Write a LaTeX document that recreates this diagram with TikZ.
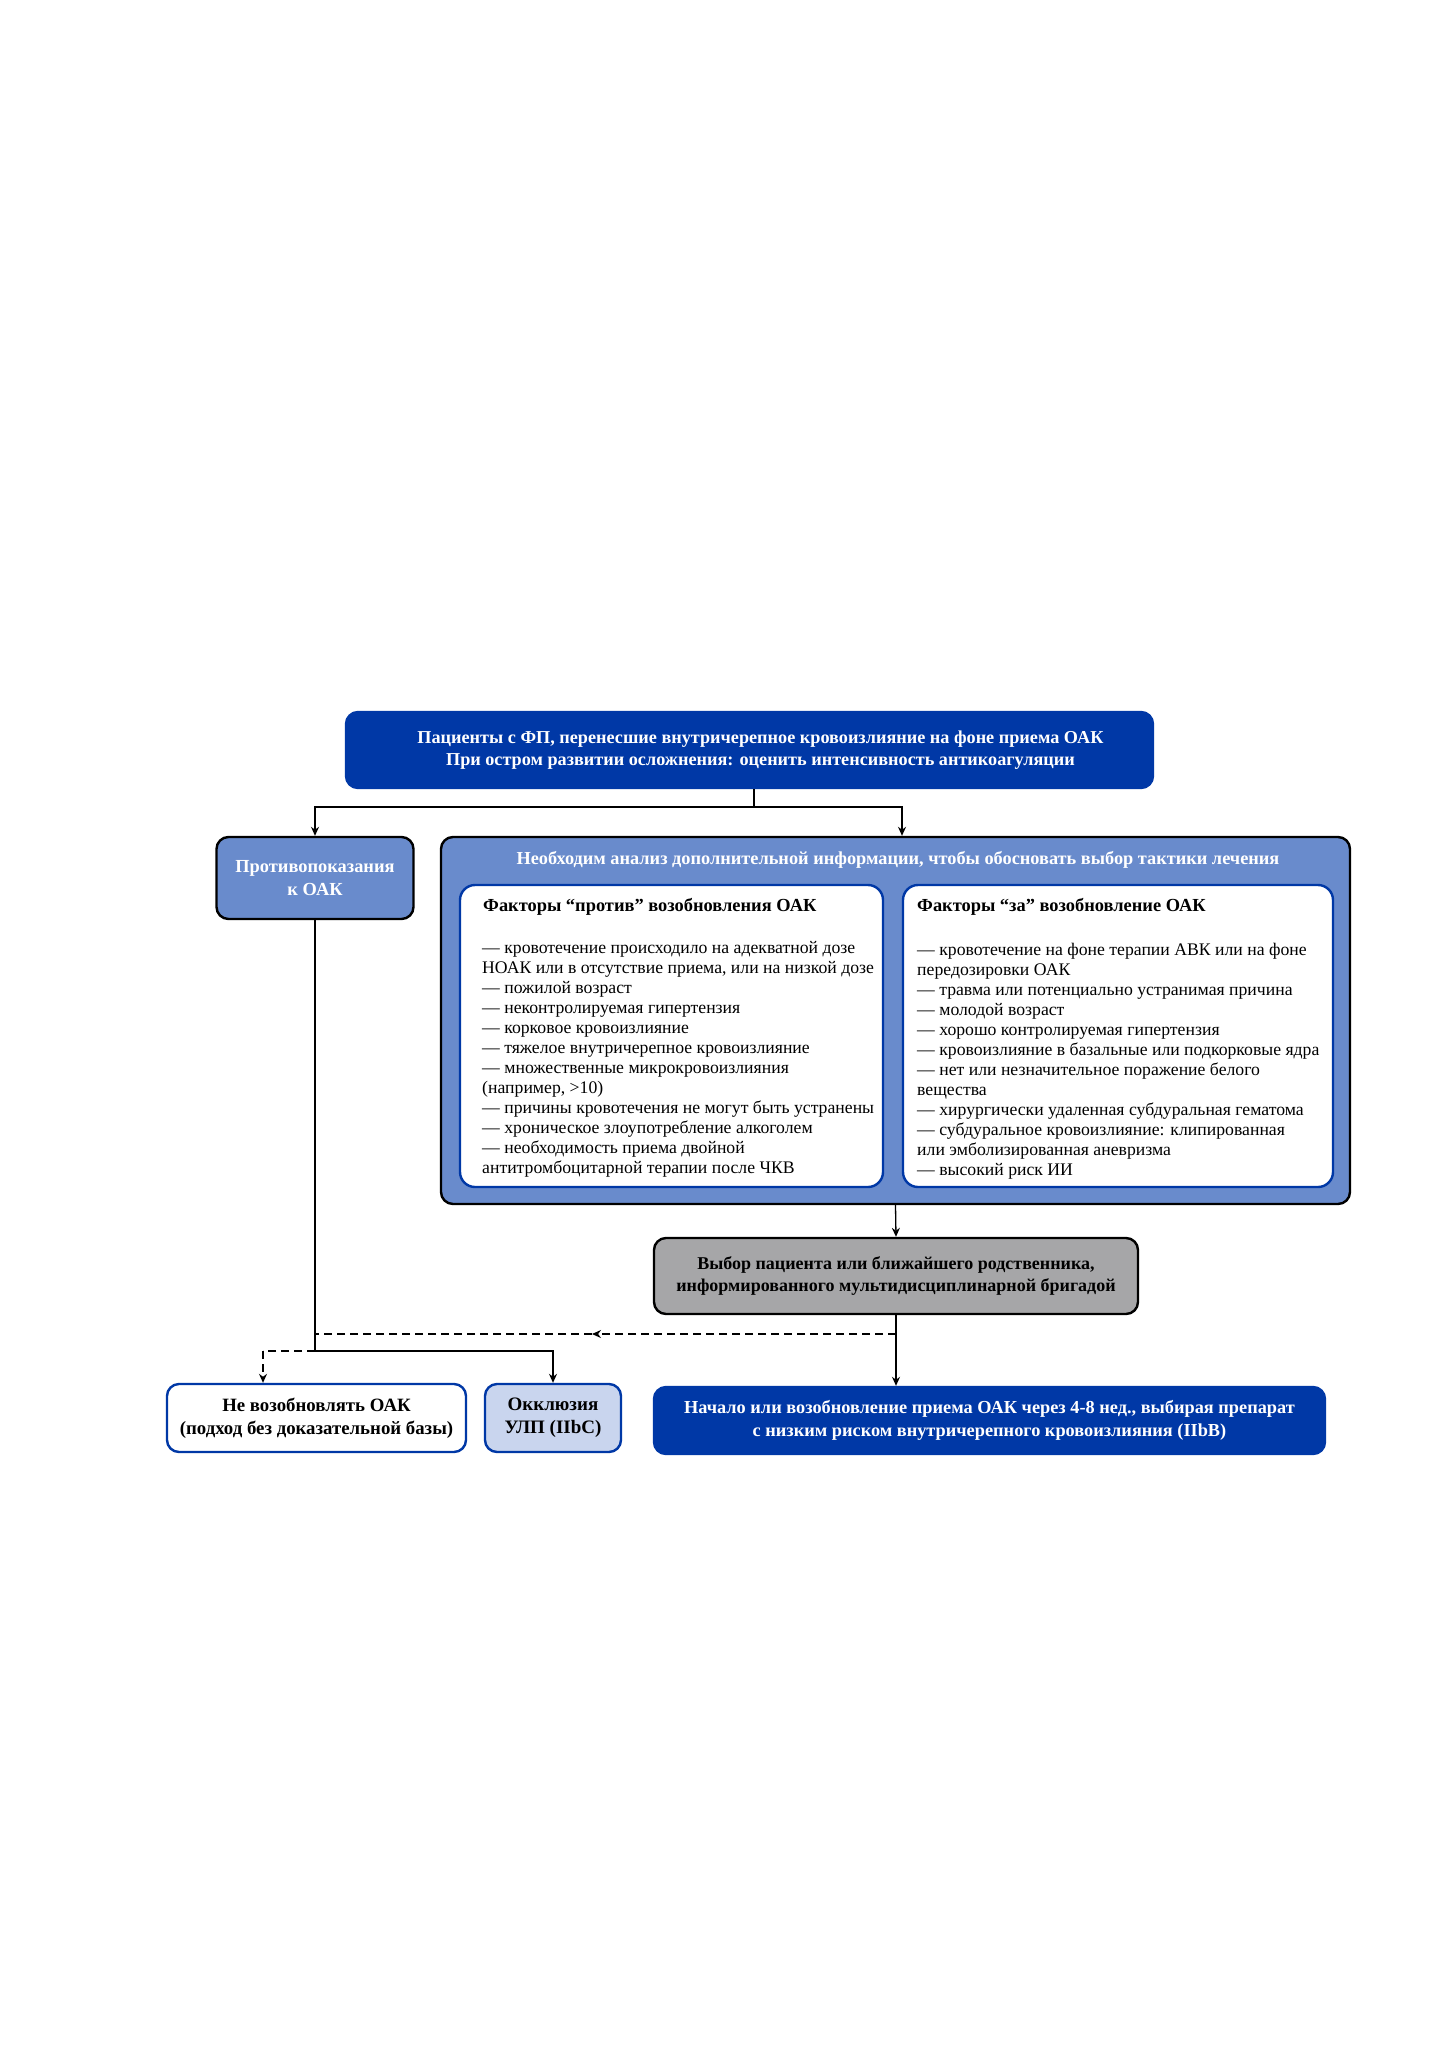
\documentclass[tikz,border=0pt]{standalone}
\usepackage{fontspec}
\setmainfont{Liberation Serif}
\usetikzlibrary{arrows.meta}
\definecolor{dkblue}{RGB}{0,56,166}
\definecolor{mdblue}{RGB}{105,139,204}
\definecolor{ltblue}{RGB}{201,213,238}
\definecolor{grayfill}{RGB}{166,166,168}
\newcommand\myfs[2]{\fontsize{#1}{#2}\selectfont}
\begin{document}
\begin{tikzpicture}[x=1pt,y=-1pt,
  conn/.style={line width=1.3pt,draw=black},
  tip/.style={-{Stealth[length=9pt,width=8pt]}},
  dsh/.style={dash pattern=on 8pt off 5pt},
  boxbase/.style={rounded corners=12pt,inner sep=0pt,align=center,line width=2.4pt},
  topbox/.style={boxbase,fill=dkblue,draw=dkblue,text=white,font=\myfs{18.2}{22}\bfseries},
  midbox/.style={boxbase,fill=mdblue,draw=black,text=white,font=\myfs{18.4}{23}\bfseries},
  bigbox/.style={boxbase,fill=mdblue,draw=black},
  whitebox/.style={boxbase,rounded corners=15pt,fill=white,draw=dkblue},
  graybox/.style={boxbase,fill=grayfill,draw=black,text=black,font=\myfs{18}{22}\bfseries},
  nobox/.style={boxbase,fill=white,draw=dkblue,text=black,font=\myfs{18.8}{23}\bfseries},
  occbox/.style={boxbase,fill=ltblue,draw=dkblue,text=black,font=\myfs{19}{23}\bfseries},
  startbox/.style={boxbase,fill=dkblue,draw=dkblue,text=white,font=\myfs{18.3}{22.5}\bfseries},
  head/.style={anchor=base west,inner sep=0pt,font=\myfs{18.4}{22}\bfseries},
  list/.style={anchor=north west,inner sep=0pt,align=left,font=\myfs{17.7}{20.05}}
]
\useasboundingbox (0,0) rectangle (1449,2050);
\fill[white] (0,0) rectangle (1449,2050);

\node[topbox,minimum width=807pt,minimum height=76pt] (top) at (749.5,750)
  {\hspace*{22pt}Пациенты с ФП, перенесшие внутричерепное кровоизлияние на фоне приема ОАК\\
   \hspace*{22pt}При остром развитии осложнения: оценить интенсивность антикоагуляции};

\node[midbox,minimum width=197pt,minimum height=82pt] (contra) at (315,878)
  {Противопоказания\\к ОАК};

\node[bigbox,minimum width=909pt,minimum height=367pt] (big) at (895.5,1020.5) {};
\node[anchor=base,inner sep=0pt,text=white,font=\myfs{18.3}{22}\bfseries] (bigtitle) at (898,864)
  {Необходим анализ дополнительной информации, чтобы обосновать выбор тактики лечения};

\node[whitebox,minimum width=423pt,minimum height=302pt] (against) at (671.5,1036) {};
\node[whitebox,minimum width=430pt,minimum height=302pt] (pro) at (1118,1036) {};

\node[head] (againsthead) at (483,911) {Факторы “против” возобновления ОАК};
\node[head] (prohead) at (917,911) {Факторы “за” возобновление ОАК};

\node[list] (againstlist) at (482,939) {\strut — кровотечение происходило на адекватной дозе\\
НОАК или в отсутствие приема, или на низкой дозе\\
— пожилой возраст\\
— неконтролируемая гипертензия\\
— корковое кровоизлияние\\
— тяжелое внутричерепное кровоизлияние\\
— множественные микрокровоизлияния\\
(например, >10)\\
— причины кровотечения не могут быть устранены\\
— хроническое злоупотребление алкоголем\\
— необходимость приема двойной\\
антитромбоцитарной терапии после ЧКВ};

\node[list] (prolist) at (917,941) {\strut — кровотечение на фоне терапии АВК или на фоне\\
передозировки ОАК\\
— травма или потенциально устранимая причина\\
— молодой возраст\\
— хорошо контролируемая гипертензия\\
— кровоизлияние в базальные или подкорковые ядра\\
— нет или незначительное поражение белого\\
вещества\\
— хирургически удаленная субдуральная гематома\\
— субдуральное кровоизлияние: клипированная\\
или эмболизированная аневризма\\
— высокий риск ИИ};

\node[graybox,minimum width=484pt,minimum height=76pt] (gray) at (896,1276)
  {Выбор пациента или ближайшего родственника,\\информированного мультидисциплинарной бригадой};

\node[nobox,minimum width=299pt,minimum height=68pt] (no) at (316.5,1418)
  {Не возобновлять ОАК\\(подход без доказательной базы)};
\node[occbox,minimum width=136pt,minimum height=68pt] (occl) at (553,1418)
  {Окклюзия\\УЛП (IIbC)};
\node[startbox,minimum width=671pt,minimum height=67pt] (start) at (989.5,1420.5)
  {Начало или возобновление приема ОАК через 4-8 нед., выбирая препарат\\
   с низким риском внутричерепного кровоизлияния (IIbB)};

% connectors
\coordinate (s1) at (754,807);
\coordinate (bx) at (902,807);
\coordinate (dy) at (0,1334);
\coordinate (jy) at (0,1351);
\coordinate (nx) at (263,1351);
\coordinate (dmid) at (592,1334);
\coordinate (d1) at (gray.south |- dy);
\coordinate (d2) at (contra.south |- dy);
\coordinate (j) at (contra.south |- jy);

\draw[conn] (s1 |- top.south) -- (s1);
\draw[conn,tip] (s1) -| (contra.north);
\draw[conn,tip] (s1) -| (bx |- big.north);
\draw[conn,tip] (big.south) -- (gray.north);
\draw[conn,tip] (gray.south) -- (gray.south |- start.north);
\draw[conn,dsh,tip] (d1) -- (dmid);
\draw[conn,dsh] (dmid) -- (d2);
\draw[conn] (contra.south) -- (j);
\draw[conn,tip] (j) -| (occl.north);
\draw[conn,dsh] (j) -- (nx);
\draw[conn,dsh,tip] (nx) -- (nx |- no.north);
\end{tikzpicture}
\end{document}
